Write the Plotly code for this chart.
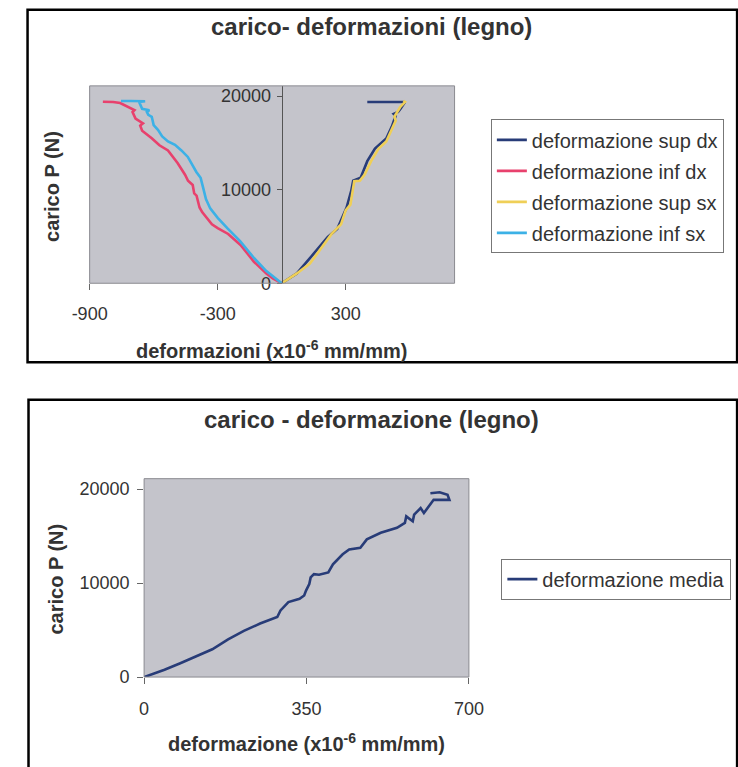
import plotly.graph_objects as go

# ---- data ----
# top chart: carico P (N) vs deformazioni (x10^-6 mm/mm)
sup_dx_def = [0, 71, 150, 216, 260, 282, 304, 326, 335, 370, 401, 437, 490, 516, 534, 525, 545, 556, 578, 401]
sup_dx_load = [0, 1050, 3160, 4950, 5800, 7050, 8100, 9900, 10950, 11270, 13050, 14400, 15480, 16740, 17900, 18100, 18300, 18640, 19370, 19370]

inf_dx_def = [0, -40, -72, -130, -193, -251, -300, -327, -372, -385, -399, -410, -417, -439, -453, -488,
              -533, -573, -609, -640, -654, -663, -650, -685, -699, -690, -721, -757, -790, -838]
inf_dx_load = [0, 500, 1050, 2300, 4100, 5270, 5900, 6300, 7580, 8100, 9370, 9600, 10500, 10950, 11600, 12850,
               14200, 14750, 15500, 16000, 16300, 16850, 17100, 17600, 18300, 18500, 18850, 19270, 19370, 19400]

sup_sx_def = [0, 71, 132, 190, 234, 278, 300, 322, 335, 340, 366, 388, 419, 454, 490, 516, 534, 528, 542, 556, 578, 570]
sup_sx_load = [0, 1050, 2100, 3900, 5270, 6300, 7800, 8400, 10200, 10900, 10950, 11600, 13050, 14400, 15160, 16500,
               17370, 17800, 18300, 18850, 19370, 19500]

inf_sx_def = [0, -72, -130, -195, -255, -300, -335, -355, -368, -380, -400, -417, -440, -470, -500, -533, -560,
              -580, -600, -609, -625, -632, -620, -654, -668, -640, -668, -708, -753]
inf_sx_load = [0, 1300, 2700, 4500, 5900, 7000, 8000, 9000, 10200, 11270, 11900, 12640, 13500, 14200, 14800,
               15160, 15700, 16400, 16900, 17800, 18000, 18320, 18500, 18640, 19370, 19450, 19480, 19480, 19480]

# bottom chart: deformazione media
media_def = [0, 44, 78, 113, 147, 181, 215, 250, 287, 294, 311, 335, 345, 349, 356, 359, 366, 377, 397, 407,
             428, 442, 466, 480, 510, 545, 562, 565, 579, 582, 596, 603, 617, 624, 658, 654, 637, 617]
media_load = [0, 770, 1470, 2180, 2950, 4000, 4910, 5690, 6390, 7090, 7970, 8320, 8670, 9200, 9900, 10600,
              10950, 10880, 11130, 12000, 13060, 13580, 13760, 14640, 15340, 15870, 16390, 17090, 16570, 17270,
              17970, 17450, 18320, 18850, 18850, 19380, 19660, 19550]

top_xticks = [-900, -300, 300]
bottom_xticks = [0, 350, 700]
load_ticks = [0, 10000, 20000]

W, H = 738, 767
FONT = "Arial, Liberation Sans, sans-serif"
TXT = "#333333"

def px(x):
    return x / W

def py(y):
    return 1 - y / H

fig = go.Figure()

top_series = [
    ("deformazione sup dx", sup_dx_def, sup_dx_load, "#283c78"),
    ("deformazione inf dx", inf_dx_def, inf_dx_load, "#e8416d"),
    ("deformazione sup sx", sup_sx_def, sup_sx_load, "#efcf57"),
    ("deformazione inf sx", inf_sx_def, inf_sx_load, "#3cb1e6"),
]
for name, xs, ys, col in top_series:
    fig.add_trace(go.Scatter(x=xs, y=ys, name=name, mode="lines",
                             line=dict(color=col, width=2.6),
                             xaxis="x", yaxis="y", legend="legend", legendgroup=name))

fig.add_trace(go.Scatter(x=media_def, y=media_load, name="deformazione media", mode="lines",
                         line=dict(color="#283c78", width=2.6),
                         xaxis="x2", yaxis="y2", legend="legend2"))

tickfont = dict(family=FONT, size=18, color=TXT)

# top plot area: x 75-457, y 87-287
x_min, x_max = -900, 810
dom_x = [px(75), px(457)]
yaxis_pos = dom_x[0] + (0 - x_min) / (x_max - x_min) * (dom_x[1] - dom_x[0])

fig.update_layout(
    width=W, height=H, autosize=False,
    margin=dict(l=0, r=0, t=0, b=0),
    paper_bgcolor="white", plot_bgcolor="#c4c4cb",
    font=dict(family=FONT, color=TXT),
    xaxis=dict(domain=dom_x, range=[x_min, x_max],
               tickvals=top_xticks, ticktext=[str(v) for v in top_xticks],
               showgrid=False, zeroline=False, showline=False,
               ticks="outside", ticklen=6, tickcolor="#666", tickfont=tickfont,
               ticklabelstandoff=8, anchor="y"),
    yaxis=dict(domain=[py(287), py(87)], range=[0, 21100],
               tickvals=load_ticks, ticktext=[str(v) for v in load_ticks],
               showgrid=False, zeroline=False, showline=True, linecolor="#555", linewidth=1,
               ticks="outside", ticklen=5, tickcolor="#555", tickfont=tickfont,
               anchor="free", position=yaxis_pos, ticklabelstandoff=2),
    xaxis2=dict(domain=[px(132), px(472)], range=[0, 700],
                tickvals=bottom_xticks, ticktext=[str(v) for v in bottom_xticks],
                showgrid=False, zeroline=False, showline=False,
                ticks="outside", ticklen=6, tickcolor="#666", tickfont=tickfont,
                ticklabelstandoff=9, anchor="y2"),
    yaxis2=dict(domain=[py(686), py(485)], range=[0, 21100],
                tickvals=load_ticks, ticktext=[str(v) for v in load_ticks],
                showgrid=False, zeroline=False, showline=False,
                ticks="outside", ticklen=6, tickcolor="#666", tickfont=tickfont,
                anchor="x2", ticklabelstandoff=4),
    legend=dict(x=px(495), y=py(121), xanchor="left", yanchor="top",
                bgcolor="white", bordercolor="#777", borderwidth=1,
                font=dict(family=FONT, size=20, color=TXT), tracegroupgap=2),
    legend2=dict(x=px(506), y=py(566), xanchor="left", yanchor="top",
                 bgcolor="white", bordercolor="#777", borderwidth=1,
                 font=dict(family=FONT, size=20, color=TXT)),
    showlegend=True,
)

shapes = [
    # outer frames of the two charts
    dict(type="rect", xref="paper", yref="paper", x0=px(10), y0=py(367), x1=1.02, y1=py(10),
         line=dict(color="black", width=2.5)),
    dict(type="rect", xref="paper", yref="paper", x0=px(11), y0=-0.02, x1=1.02, y1=py(405),
         line=dict(color="black", width=2.5)),
    # plot area borders
    dict(type="rect", xref="x domain", yref="y domain", x0=0, y0=0, x1=1, y1=1,
         line=dict(color="#8a8a90", width=1)),
    dict(type="rect", xref="x2 domain", yref="y2 domain", x0=0, y0=0, x1=1, y1=1,
         line=dict(color="#8a8a90", width=1)),
]
fig.update_layout(shapes=shapes)

title_font = dict(family=FONT, size=24, color=TXT)
axis_font = dict(family=FONT, size=20, color=TXT)
annotations = [
    dict(text="<b>carico- deformazioni (legno)</b>", x=px(370), y=py(27), font=title_font),
    dict(text="<b>deformazioni (x10<sup>-6</sup> mm/mm)</b>", x=px(265), y=py(354), font=axis_font),
    dict(text="<b>carico P (N)</b>", x=px(35), y=py(189), font=axis_font, textangle=-90),
    dict(text="<b>carico - deformazione (legno)</b>", x=px(370), y=py(425), font=title_font),
    dict(text="<b>deformazione (x10<sup>-6</sup> mm/mm)</b>", x=px(302), y=py(752), font=axis_font),
    dict(text="<b>carico P (N)</b>", x=px(40), y=py(587), font=axis_font, textangle=-90),
]
for a in annotations:
    a.update(xref="paper", yref="paper", showarrow=False, xanchor="center", yanchor="middle")
fig.update_layout(annotations=annotations)

fig.write_html("out.html", config=dict(displayModeBar=False),
               post_script="document.body.style.margin='0';document.body.style.overflow='hidden';")
